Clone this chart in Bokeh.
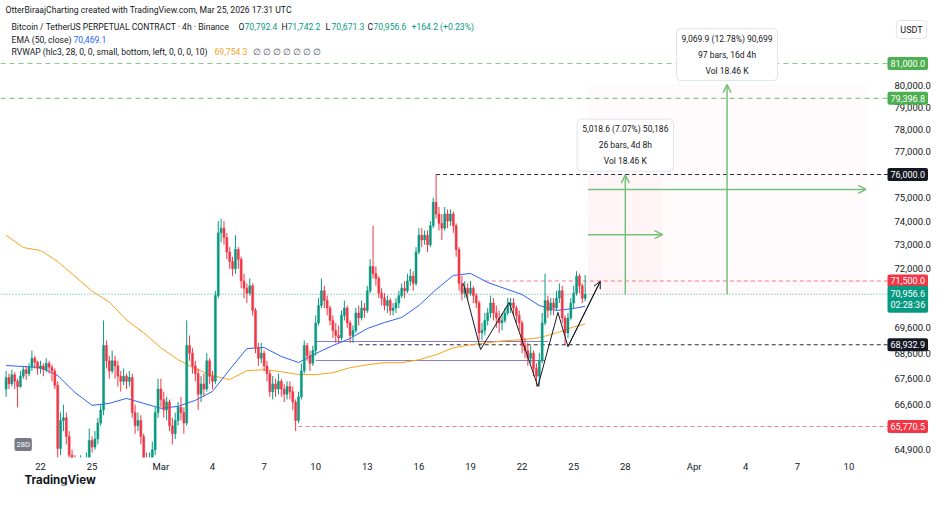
import pandas as pd
from bokeh.plotting import figure
from bokeh.models import (ColumnDataSource, Range1d, FixedTicker, NumeralTickFormatter,
                          Label, Arrow, OpenHead)
from bokeh.embed import file_html
from bokeh.resources import INLINE

# ---------------- data ----------------
bar_start = "2026-02-20 00:00"   # first 4h candle
bar_freq = "4h"
first_open = 67200

closes = [
    67650, 67400, 67750, 67500, 67300, 67700,   # Feb 20
    67950, 67800, 68050, 68400, 68250, 68000,   # Feb 21
    68100, 67950, 68200, 68050, 67900, 67350,   # Feb 22
    64950, 66000, 66100, 65400, 64700, 64300,   # Feb 23
    64000, 63700, 64200, 63900, 64300, 65250,   # Feb 24
    65000, 65300, 65900, 66400, 68900, 68300,   # Feb 25
    67900, 68300, 68100, 67700, 67500, 67700,   # Feb 26
    67500, 67650, 66300, 65800, 66000, 65400,   # Feb 27
    64500, 64100, 64300, 64900, 66300, 67200,   # Feb 28
    66800, 66400, 66700, 65800, 65500, 66000,   # Mar 1
    66500, 66300, 65900, 68900, 68600, 68100,   # Mar 2
    67800, 67000, 67400, 67200, 68300, 67700,   # Mar 3
    67500, 70900, 73500, 73700, 73300, 72700,   # Mar 4
    72300, 72000, 72800, 72400, 71500, 71200,   # Mar 5
    71000, 71300, 70300, 68800, 68400, 68600,   # Mar 6
    68100, 67800, 67100, 67400, 67200, 67500,   # Mar 7
    67200, 67000, 67300, 67100, 66700, 66000,   # Mar 8
    66900, 67900, 68900, 68500, 68200, 68700,   # Mar 9
    69800, 70500, 71100, 70700, 70400, 69900,   # Mar 10
    69500, 69300, 69200, 70100, 70400, 69800,   # Mar 11
    69300, 69500, 70200, 70000, 70400, 70300,   # Mar 12
    71100, 72100, 71800, 71600, 71000, 70800,   # Mar 13
    70500, 70700, 70300, 70400, 70600, 70900,   # Mar 14
    71200, 71100, 71500, 71700, 71400, 72700,   # Mar 15
    73400, 73200, 73400, 73000, 73800, 74800,   # Mar 16
    74300, 73900, 73700, 74300, 74000, 74300,   # Mar 17
    73800, 72800, 71400, 71000, 71200, 71000,   # Mar 18
    71200, 70900, 70600, 69400, 69500, 69900,   # Mar 19
    70200, 70600, 70200, 70000, 69800, 69900,   # Mar 20
    70200, 70500, 70600, 70400, 70100, 69800,   # Mar 21
    68900, 68700, 68400, 68600, 68000, 67700,   # Mar 22
    68300, 69800, 70700, 70300, 70600, 70400,   # Mar 23
    70800, 71100, 70000, 69400, 70000, 70600,   # Mar 24
    71000, 71700, 71300, 70792.4, 70956.6,      # Mar 25
]
highs = [
    67900, 67800, 67950, 67850, 67600, 67900,
    68100, 68100, 68200, 68700, 68500, 68300,
    68300, 68200, 68400, 68300, 68150, 68000,
    67500, 66300, 66600, 66300, 65600, 64900,
    64700, 64500, 64700, 64600, 64800, 65700,
    65400, 65600, 66100, 66600, 69900, 69100,
    68500, 68700, 68500, 68300, 67900, 68000,
    67800, 67900, 67800, 66600, 66300, 66200,
    65500, 64800, 64800, 65200, 66500, 67600,
    67600, 67100, 66900, 66800, 66100, 66300,
    66700, 66900, 66500, 69900, 69300, 68800,
    68300, 68000, 67700, 67800, 68600, 68400,
    67900, 71100, 74000, 74100, 74000, 73500,
    72900, 72500, 73400, 72900, 72500, 71800,
    71400, 71600, 71400, 70400, 69000, 69000,
    68700, 68300, 67900, 67700, 67600, 67800,
    67600, 67400, 67500, 67500, 67300, 66800,
    67100, 68200, 69100, 69000, 68700, 68900,
    70100, 70800, 71600, 71300, 70900, 70500,
    70100, 69800, 69700, 70300, 70700, 70500,
    69900, 69700, 70400, 70500, 70700, 70600,
    71300, 72400, 73800, 72100, 71700, 71200,
    71000, 70900, 70800, 70600, 70800, 71100,
    71400, 71500, 71800, 72000, 71900, 72900,
    73700, 73700, 73600, 73600, 74000, 75000,
    76000, 74600, 74300, 74600, 74500, 74500,
    74400, 73900, 72900, 71700, 71500, 71400,
    71500, 71300, 71000, 70700, 69800, 70200,
    70400, 70900, 70800, 70500, 70300, 70200,
    70400, 70800, 70800, 70800, 70500, 70300,
    69900, 69200, 69000, 68900, 68700, 68200,
    68600, 70200, 71800, 70900, 70800, 70800,
    71100, 71400, 71300, 70100, 70200, 70800,
    71300, 71900, 71800, 71400, 71742.2,
]
lows = [
    66900, 67200, 67300, 67200, 66500, 67250,
    67600, 67550, 67700, 67900, 68000, 67750,
    67800, 67700, 67850, 67800, 67500, 67200,
    64600, 64700, 65600, 65100, 64300, 63800,
    63600, 63300, 63500, 63500, 63800, 64200,
    64800, 64900, 65100, 65800, 66200, 68000,
    67600, 67800, 67600, 67300, 67100, 67350,
    67200, 67300, 66100, 65500, 65600, 65100,
    64000, 63700, 63800, 64200, 64700, 66100,
    66500, 66100, 66000, 65600, 65100, 65300,
    65800, 66000, 65500, 65800, 68300, 67800,
    67500, 66400, 66700, 66900, 67100, 67400,
    67200, 67400, 70800, 73100, 73000, 72400,
    72000, 71700, 71800, 72000, 71200, 70800,
    70600, 70900, 70100, 68600, 68100, 68200,
    67900, 67500, 66900, 66800, 66900, 67000,
    66900, 66700, 66800, 66800, 66400, 65600,
    65900, 66800, 67800, 68300, 67900, 68100,
    68500, 69700, 70400, 70400, 70100, 69700,
    69200, 69000, 69000, 69100, 69900, 69600,
    69000, 69000, 69400, 69700, 69900, 70000,
    70200, 71000, 71600, 71300, 70800, 70500,
    70300, 70200, 70100, 70100, 70200, 70400,
    70800, 70800, 71000, 71300, 71100, 71300,
    72600, 72900, 73000, 72700, 72900, 73700,
    74100, 73600, 73200, 73600, 73700, 73800,
    73500, 72500, 71100, 70700, 70800, 70700,
    70900, 70600, 70400, 69100, 69100, 69300,
    69700, 70000, 69900, 69600, 69400, 69500,
    69800, 70100, 70200, 70100, 69800, 69500,
    68600, 68400, 68100, 68200, 67700, 67300,
    67300, 68200, 69700, 70000, 70100, 70100,
    70300, 70600, 69800, 68900, 69200, 69900,
    70400, 70900, 71000, 70600, 70671.3,
]

# indicator lines, one reading per day (00:00) plus the last bar
line_first_day = "2026-02-20"
line_last_bar = "2026-03-25 16:00"
ema_values = [68114, 68075, 68036, 67725, 67071, 66575, 66651, 66842, 66651,
              66461, 66537, 66766, 67111, 67955, 68781, 68820, 68468, 68232, 68584,
              68900, 69177, 69575, 69815, 70016, 70500, 71150, 71727, 71810, 71437,
              71190, 70946, 70500, 70300, 70380, 70469.1]
rvwap_values = [73400, 72885, 72760, 72305, 71690, 71080, 70640, 69915, 69400,
                68810, 68340, 67990, 67720, 67565, 67915, 67950, 67875, 67760, 67760,
                67835, 68030, 68145, 68225, 68225, 68340, 68535, 68810, 68930, 69010,
                69090, 69130, 69210, 69400, 69640, 69754.3]

# drawn levels: price, colour key, start date (None = from the left edge)
level_prices = [81000.0, 79396.8, 76000.0, 71500.0, 68932.9, 65770.5]
level_kinds = ["green", "green", "black", "red", "black", "red"]
level_starts = [None, None, "2026-03-17 00:00", "2026-03-19 20:00", "2026-03-12 12:00", "2026-03-09 00:00"]
last_price = 70956.6
countdown = "02:28:36"

# purple range lines
box_start = "2026-03-10 00:00"
box_ends = ["2026-03-23 12:00", "2026-03-23 08:00"]
box_prices = [69060, 68310]

# W pattern drawing
pattern_dates = ["2026-03-18 14:00", "2026-03-19 14:00", "2026-03-21 06:00", "2026-03-22 22:00",
                 "2026-03-24 02:00", "2026-03-24 16:00", "2026-03-26 13:00"]
pattern_prices = [71400, 68740, 70620, 67300, 70220, 68860, 71480]

# date & price range tools
range_start = "2026-03-25 20:00"
range_ends = ["2026-03-30 04:00", "2026-04-11 00:00"]
range_mids = ["2026-03-28 00:00", "2026-04-02 22:00"]
range_base = 70956.6
range_tops = [75975.2, 80026.5]
range_texts = ["5,018.6 (7.07%) 50,186\n26 bars, 4d 8h\nVol 18.46 K",
               "9,069.9 (12.78%) 90,699\n97 bars, 16d 4h\nVol 18.46 K"]

price_ticks = [80000, 79000, 78000, 77000, 75000, 74000, 73000, 72000,
               69600, 68600, 67600, 66600, 64900]
date_ticks = ["2026-02-22", "2026-02-25", "2026-03-01", "2026-03-04", "2026-03-07", "2026-03-10",
              "2026-03-13", "2026-03-16", "2026-03-19", "2026-03-22", "2026-03-25", "2026-03-28",
              "2026-04-01", "2026-04-04", "2026-04-07", "2026-04-10"]
date_labels = ["22", "25", "Mar", "4", "7", "10", "13", "16", "19", "22", "25", "28",
               "Apr", "4", "7", "10"]

# visible window: chart pane, then the price-scale strip to its right / time strip below
x_view = ("2026-02-19 16:11", "2026-04-14 15:04")
pane_end = "2026-04-12 19:49"
pane_bottom = 64613
y_view = (63583, 83982)

# ---------------- styling ----------------
FONT = "Roboto"
UP, DOWN = "#089981", "#f23645"
INK = "#131722"
KIND_COLOR = {"green": "#4caf50", "black": INK, "red": DOWN}


def ms(s):
    return pd.Timestamp(s).value / 1e6


times = [ms(t) for t in pd.date_range(bar_start, periods=len(closes), freq=bar_freq)]
opens = [first_open] + closes[:-1]
colors = [UP if c >= o else DOWN for o, c in zip(opens, closes)]
src = ColumnDataSource(dict(
    t=times, o=opens, c=closes, h=highs, l=lows,
    top=[max(o, c) for o, c in zip(opens, closes)],
    bot=[min(o, c) for o, c in zip(opens, closes)],
    col=colors))

line_t = [ms(d) for d in pd.date_range(line_first_day, periods=len(ema_values) - 1, freq="D")] + [ms(line_last_bar)]

x0, x_end = ms(x_view[0]), ms(pane_end)
p = figure(width=934, height=489, x_axis_type="datetime", y_axis_type="log",
           y_axis_location="right",
           x_range=Range1d(x0, ms(x_view[1])), y_range=Range1d(*y_view),
           output_backend="svg", toolbar_location=None,
           min_border_left=0, min_border_right=6, min_border_top=0, min_border_bottom=4)
p.background_fill_color = "white"
p.border_fill_color = "white"
p.outline_line_color = None
p.xgrid.visible = False
p.ygrid.visible = False

ya = p.yaxis[0]
ya.ticker = FixedTicker(ticks=price_ticks)
ya.formatter = NumeralTickFormatter(format="0,0.0")
ya.axis_line_color = None
ya.major_tick_line_color = None
ya.minor_tick_line_color = None
ya.major_label_standoff = -40
ya.major_label_text_font = FONT
ya.major_label_text_font_size = "9.5px"
ya.major_label_text_color = INK

xa = p.xaxis[0]
tick_ms = [ms(d) for d in date_ticks]
xa.ticker = FixedTicker(ticks=tick_ms)
xa.major_label_overrides = {t: lab for t, lab in zip(tick_ms, date_labels)}
xa.axis_line_color = None
xa.major_tick_line_color = None
xa.minor_tick_line_color = None
xa.major_label_standoff = -31
xa.major_label_text_font = FONT
xa.major_label_text_font_size = "9.5px"
xa.major_label_text_color = INK

# range-tool shaded areas
for end, top in zip(range_ends, range_tops):
    p.quad(left=ms(range_start), right=ms(end), top=top, bottom=range_base,
           fill_color=DOWN, fill_alpha=0.022, line_color=None)

# levels
for price, kind, start in zip(level_prices, level_kinds, level_starts):
    col = KIND_COLOR[kind]
    dash = "5 4" if kind == "green" else "4 3"
    p.segment(x0=x0 if start is None else ms(start), x1=x_end, y0=price, y1=price,
              line_color=col, line_dash=dash, line_width=1.1,
              line_alpha=0.9 if kind == "black" else 0.65)
p.segment(x0=x0, x1=x_end, y0=last_price, y1=last_price, line_color=UP,
          line_dash="1 2", line_width=1, line_alpha=0.8)

# purple range lines
for end, price in zip(box_ends, box_prices):
    p.segment(x0=ms(box_start), x1=ms(end), y0=price, y1=price,
              line_color="#8e7cc3", line_width=1.2)

# indicators
p.line(line_t, rvwap_values, line_color="#f7a21b", line_width=1)
p.line(line_t, ema_values, line_color="#2962ff", line_width=1)

# candles
p.segment(x0="t", x1="t", y0="l", y1="h", line_color="col", line_width=1, source=src)
p.vbar(x="t", width=0.7 * 4 * 3600 * 1000, top="top", bottom="bot",
       fill_color="col", line_color="col", line_width=0.5, source=src)

# the time-scale strip below the pane hides what falls under the pane's bottom price
p.quad(left=x0, right=ms(x_view[1]), bottom=y_view[0], top=pane_bottom,
       fill_color="white", line_color=None)

# W pattern
pt = [ms(d) for d in pattern_dates]
p.line(pt, pattern_prices, line_color=INK, line_width=1)
p.add_layout(Arrow(end=OpenHead(size=7, line_color=INK, line_width=1), line_color=INK,
                   line_width=1, x_start=pt[-2], y_start=pattern_prices[-2],
                   x_end=pt[-1], y_end=pattern_prices[-1]))

# range-tool arrows and boxes
GREEN_ARROW = "#74c278"
for end, mid, top, txt in zip(range_ends, range_mids, range_tops, range_texts):
    mid_price = (range_base * top) ** 0.5
    p.add_layout(Arrow(end=OpenHead(size=8, line_color=GREEN_ARROW, line_width=1.5),
                       line_color=GREEN_ARROW, line_width=1.5,
                       x_start=ms(mid), y_start=range_base, x_end=ms(mid), y_end=top))
    p.add_layout(Arrow(end=OpenHead(size=8, line_color=GREEN_ARROW, line_width=1.5),
                       line_color=GREEN_ARROW, line_width=1.5,
                       x_start=ms(range_start), y_start=mid_price, x_end=ms(end), y_end=mid_price))
    p.add_layout(Label(x=ms(mid), y=top, text=txt, text_align="center", text_baseline="bottom",
                       y_offset=4, text_font=FONT, text_font_size="8.5px", text_color=INK,
                       text_line_height=1.6, background_fill_color="white",
                       border_line_color="#e0e3eb", border_line_width=1,
                       padding=5, border_radius=4))

# screen positions are measured from the chart frame's bottom-left corner
FB = 485          # frame bottom in page pixels
TAG_X = 887       # left edge of the price tags


def note(text, px, py, size="8.6px", color=INK, style="normal", align="left",
         baseline="middle", font=FONT, **kw):
    p.add_layout(Label(x=px, y=FB - py, x_units="screen", y_units="screen", text=text,
                       text_font=font, text_font_size=size, text_color=color,
                       text_font_style=style, text_align=align, text_baseline=baseline, **kw))


# price tags on the price scale
for price, kind in zip(level_prices, level_kinds):
    p.add_layout(Label(x=TAG_X, y=price, x_units="screen", y_units="data",
                       text=f"{price:,.1f}", text_align="left", text_baseline="middle",
                       text_font=FONT, text_font_size="9px", text_color="white",
                       background_fill_color=KIND_COLOR[kind], padding=3, border_radius=2))
p.add_layout(Label(x=TAG_X, y=last_price, x_units="screen", y_units="data", y_offset=-5,
                   text=f"{last_price:,.1f}\n{countdown}", text_align="left", text_baseline="middle",
                   text_font=FONT, text_font_size="9px", text_color="white", text_line_height=1.1,
                   background_fill_color=UP, padding=3, border_radius=2))

note("OtterBiraajCharting created with TradingView.com, Mar 25, 2026 17:31 UTC", 5, 9)
note("Bitcoin / TetherUS PERPETUAL CONTRACT · 4h · Binance", 11, 26)
for lab, val, px in [("O", "70,792.4", 238), ("H", "71,742.2", 281),
                     ("L", "70,671.3", 325), ("C", "70,956.6", 367)]:
    note(lab, px, 26)
    note(val, px + 6, 26, color=UP)
note("+164.2 (+0.23%)", 411, 26, color=UP)
note("EMA (50, close)", 11, 39)
note("70,469.1", 73, 39, color="#2962ff")
note("RVWAP (hlc3, 28, 0, 0, small, bottom, left, 0, 0, 0, 10)", 11, 51)
note("69,754.3", 214, 51, color="#f7a21b")
note("∅  ∅  ∅  ∅  ∅  ∅  ∅", 252, 51, color="#50535e")
note("USDT", 911, 29, size="9px", align="center", background_fill_color="white",
     border_line_color="#e0e3eb", padding=4, border_radius=4)
note("28D", 14, 444, size="7.5px", color="white", background_fill_color="#787b86",
     padding=2, border_radius=2)
note("TradingView", 24, 479, size="11.5px", style="bold", font="Inter")

open("out.html", "w").write(file_html(p, INLINE, "BTCUSDT 4h"))
